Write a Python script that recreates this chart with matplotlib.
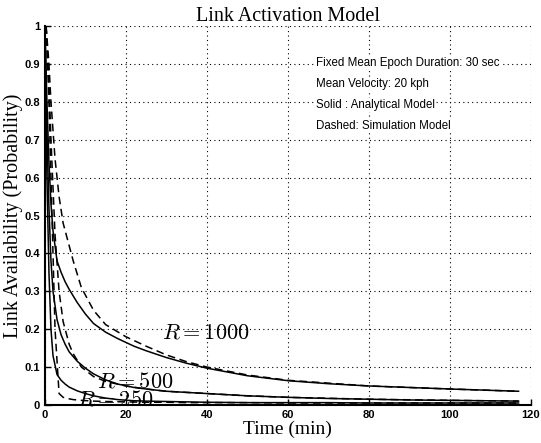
import matplotlib.pyplot as plt
import numpy as np

# analytical model (solid)
t_solid = [0, 0.5, 1, 1.5, 2, 3, 4, 5, 6, 8, 10, 12, 15, 18, 22, 25, 30, 35, 40, 50, 60, 70, 80, 90, 100, 117]
r1000_solid = [1, 0.8, 0.64, 0.53, 0.46, 0.38, 0.35, 0.325, 0.305, 0.27, 0.24, 0.215, 0.192, 0.175, 0.155, 0.143, 0.125, 0.11, 0.097, 0.077, 0.064, 0.056, 0.05, 0.046, 0.042, 0.036]
r500_solid = [1, 0.72, 0.52, 0.38, 0.3, 0.225, 0.185, 0.16, 0.14, 0.115, 0.097, 0.082, 0.066, 0.055, 0.046, 0.042, 0.036, 0.033, 0.03, 0.024, 0.02, 0.017, 0.015, 0.013, 0.012, 0.01]
r250_solid = [1, 0.6, 0.35, 0.2, 0.13, 0.08, 0.065, 0.055, 0.047, 0.037, 0.03, 0.024, 0.018, 0.014, 0.011, 0.01, 0.009, 0.008, 0.007, 0.006, 0.006, 0.006, 0.005, 0.005, 0.005, 0.005]

# simulation model (dashed)
t_dash = [0.3, 1, 1.5, 2.5, 3.5, 4.5, 6, 7, 9, 12, 15, 20, 25, 30, 35, 40, 50, 60, 80, 100, 117]
r1000_dash = [1, 0.9, 0.8, 0.65, 0.55, 0.48, 0.42, 0.38, 0.31, 0.25, 0.212, 0.18, 0.155, 0.132, 0.114, 0.1, 0.079, 0.065, 0.05, 0.042, 0.036]
r500_dash = [1, 0.85, 0.7, 0.45, 0.3, 0.22, 0.16, 0.135, 0.1, 0.075, 0.062, 0.05, 0.042, 0.036, 0.033, 0.03, 0.024, 0.02, 0.015, 0.012, 0.01]
r250_dash = [1, 0.8, 0.6, 0.2, 0.03, 0.02, 0.016, 0.014, 0.012, 0.01, 0.009, 0.008, 0.007, 0.007, 0.006, 0.006, 0.006, 0.005, 0.005, 0.005, 0.005]

plt.rcParams['mathtext.fontset'] = 'cm'

fig = plt.figure(figsize=(5.41, 4.43), dpi=100)
ax = fig.add_axes([0.083, 0.086, 0.898, 0.855])

for y in [r1000_solid, r500_solid, r250_solid]:
    ax.plot(t_solid, y, 'k-', linewidth=1.1)
for y in [r1000_dash, r500_dash, r250_dash]:
    ax.plot(t_dash, y, 'k--', linewidth=1.1, dashes=(5, 3))

ax.set_xlim(0, 120)
ax.set_ylim(0, 1)
ax.set_xticks(np.arange(0, 121, 20))
ax.set_yticks(np.arange(0, 1.01, 0.1))
ax.set_yticklabels(['0', '0.1', '0.2', '0.3', '0.4', '0.5', '0.6', '0.7', '0.8', '0.9', '1'])
ax.tick_params(direction='in', length=4, labelsize=8, width=1)
for lab in ax.get_xticklabels() + ax.get_yticklabels():
    lab.set_fontfamily('Liberation Sans')
    lab.set_fontweight('bold')
ax.grid(True, linestyle=(0, (1, 3)), color='k', linewidth=0.8)
ax.spines['top'].set_visible(False)
ax.spines['right'].set_visible(False)
ax.spines['left'].set_linewidth(1.5)
ax.spines['bottom'].set_linewidth(1.5)

ax.set_title('Link Activation Model', fontfamily='Liberation Serif', fontsize=14.5, pad=3)
ax.set_xlabel('Time (min)', fontfamily='Liberation Serif', fontsize=14, labelpad=1)
ax.set_ylabel('Link Availability (Probability)', fontfamily='Liberation Serif', fontsize=14.5, labelpad=1)

ax.text(29, 0.19, r'$R = 1000$', fontsize=16, va='center')
ax.text(12.8, 0.063, r'$R = 500$', fontsize=16, va='center')
ax.text(8, 0.013, r'$R = 250$', fontsize=16, va='center')

notes = ['Fixed Mean Epoch Duration: 30 sec', 'Mean Velocity: 20 kph',
         'Solid : Analytical Model', 'Dashed: Simulation Model']
for i, s in enumerate(notes):
    ax.text(67, 0.902 - i * 0.055, s, fontsize=8.3, fontfamily='Liberation Sans',
            va='center', bbox=dict(facecolor='white', edgecolor='none', pad=0.5))

fig.savefig('out.png', dpi=100)
